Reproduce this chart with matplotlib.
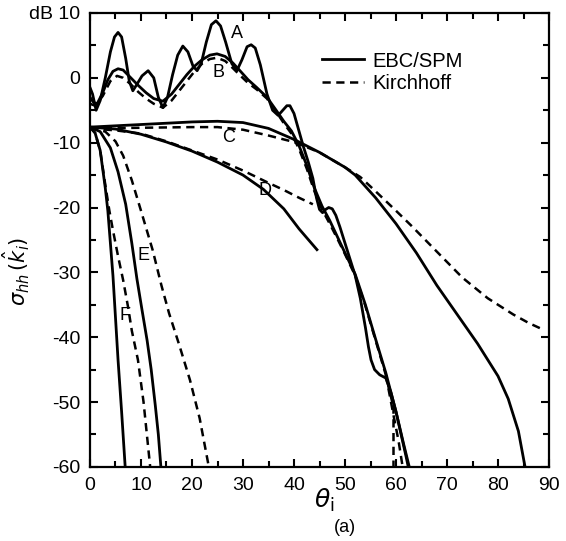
import matplotlib.pyplot as plt
from matplotlib.ticker import MultipleLocator

# Kurvendaten (theta in Grad, sigma in dB)
theta_A = [0, 0.5, 1.2, 2, 3, 4, 4.8, 5.5, 6.2, 7, 7.7, 8.4, 9.2, 10.2, 11.4, 12.5, 13.4, 14.3,
           15.2, 16.2, 17.2, 18.2, 19.2, 20.2, 21, 21.8, 22.8, 23.8, 24.7, 25.6, 26.6, 27.8,
           28.8, 29.8, 30.8, 31.6, 32.4, 33.4, 34.7, 35.8, 36.9, 37.8, 38.6, 39.2, 40, 40.9,
           41.8, 42.8, 43.7, 44.4, 45, 45.6, 46.2, 46.8, 47.5, 48.2, 49, 50, 51, 52, 53, 54,
           54.6, 55.1, 55.8, 56.8, 58, 59, 60, 61, 62, 62.4]
sigma_A = [-1.5, -2.5, -5, -3.5, 0, 4, 6.3, 7, 6.3, 3, -0.5, -2, -1, 0.3, 1.1, 0, -3, -4.6,
           -3, 0.5, 3.5, 4.9, 4, 1.8, 1.1, 2.2, 5.5, 8.2, 8.8, 8, 5.5, 2.2,
           1.1, 2.8, 4.8, 5.1, 4.6, 2, -2.5, -5, -5.8, -5, -4.3, -4.3, -5.5, -8,
           -10.5, -13, -15.5, -18.5, -20.3, -20.8, -20.3, -20, -20.2, -21.2, -23, -25.5, -28, -30.5, -34, -38.5,
           -41.5, -43.5, -45, -45.8, -46.3, -48.5, -51.5, -55, -58.5, -60]

theta_B = [0, 0.7, 1.4, 2.5, 3.5, 4.5, 5.5, 6.5, 8, 9.5, 11, 12.5, 14.3, 16, 17.5, 19, 20.5, 22,
           23.5, 24.9, 26.5, 28, 29.4, 31, 32.7, 34.7, 36.5, 38, 39.5, 41, 42.5, 44, 45.5, 47,
           48.5, 50, 52, 54, 56, 58, 60, 61.5, 62.6]
sigma_B = [-3, -3.8, -4, -2.3, -0.3, 1, 1.4, 1.2, 0, -1.2, -2.3, -3.2, -3.6, -2.5, -1, 0.5, 1.8, 2.8,
           3.5, 3.7, 3.3, 2.3, 1.1, -0.3, -1.5, -3, -5, -6.7, -8.2, -10.5, -13.5, -17, -19.8, -22,
           -24.5, -27, -30.3, -35, -40.3, -45.5, -51.5, -56.5, -60]

theta_AB_k = [0, 1, 2.5, 4, 5.3, 6.5, 8, 9.5, 11, 12.5, 14.3, 16, 17.5, 19, 20.5, 22, 23.5, 24.9,
              26.5, 28, 29.4, 31, 32.7, 34.7, 36.5, 38, 39.5, 41, 42.5, 44, 45.5, 47, 48.5, 50,
              52, 54, 56, 58, 59.4]
sigma_AB_k = [-4, -4.3, -2.8, -0.5, 0.3, 0, -1, -2.2, -3.2, -4, -4.6, -3.5, -2, -0.5, 1, 2.2, 2.9, 3.1,
              2.6, 1.5, 0.4, -0.8, -1.8, -3.2, -5.2, -7, -8.6, -11, -14, -17.5, -20.3, -22.5, -24.8, -27.2,
              -30.5, -35.2, -40.5, -45.8, -50.5]
theta_A_k_end = [59.4, 59.4]
sigma_A_k_end = [-50.5, -60]
theta_B_k_end = [58, 59.5, 60.5, 61.3]
sigma_B_k_end = [-45.8, -52, -56, -60]

theta_C = [0, 5, 10, 15, 20, 25, 30, 35, 40, 45, 50, 52, 56, 60, 64, 68, 72, 76, 80, 82, 84, 85.3]
sigma_C = [-7.6, -7.4, -7.2, -7.0, -6.8, -6.7, -6.9, -7.8, -9.5, -11.5, -13.8, -15, -18.5, -22.5,
           -27, -32, -36.5, -41, -46, -49.5, -54.5, -60]
theta_C_k = [0, 10, 20, 25, 30, 35, 40, 45, 50, 53, 56, 60, 63, 68, 73, 78, 83, 86, 88.2]
sigma_C_k = [-7.8, -7.7, -7.6, -7.6, -8, -8.9, -9.9, -11.5, -13.8, -15.3, -17.5, -20.5, -22.8,
             -26.8, -30.8, -34, -36.5, -37.8, -38.6]

theta_D = [0, 5, 10, 15, 20, 25, 30, 34, 38, 41, 44.5]
sigma_D = [-7.6, -7.9, -8.7, -9.9, -11.3, -13, -15, -17.2, -20.2, -23.3, -26.5]
theta_D_k = [0, 5, 10, 15, 20, 25, 30, 35, 38, 41, 43.7]
sigma_D_k = [-7.8, -8.1, -8.6, -9.8, -11.2, -12.6, -14.3, -16.2, -17.3, -18.5, -19.5]

theta_E = [0, 2, 4, 5.5, 7, 8.2, 9.2, 10.2, 11.2, 12, 12.8, 13.4, 13.9]
sigma_E = [-7.6, -8.3, -10.8, -14.5, -19.5, -25.5, -31, -35.8, -40.5, -45, -50.5, -55, -60]
theta_E_k = [0, 3, 5, 6.5, 8.2, 10, 12.3, 14, 15.5, 17.5, 19.6, 21.5, 23.3]
sigma_E_k = [-7.6, -8.3, -9.8, -12, -15.8, -20.5, -26.6, -32, -36.3, -41.2, -46.6, -52.5, -60]

theta_F = [0, 1, 2, 3, 3.5, 4, 4.5, 5, 5.5, 6.2, 6.9]
sigma_F = [-7.6, -8.5, -11.2, -17, -20.5, -25.5, -30.5, -37, -43.5, -51.5, -60]
theta_F_k = [0, 1, 2, 3, 3.8, 4.5, 5.5, 6.5, 7.5, 8.2, 9.4, 10.5, 11.8]
sigma_F_k = [-7.6, -8.5, -11.2, -16.5, -20.5, -23.5, -27.5, -31.2, -35.5, -39, -43.5, -50, -60]

labels = ['A', 'B', 'C', 'D', 'E', 'F']
label_theta = [28.8, 25.1, 27.1, 34.3, 10.4, 6.9]
label_sigma = [6.8, 0.8, -9.2, -17.4, -27.4, -36.6]

plt.rcParams['font.family'] = ['Liberation Sans', 'DejaVu Sans']
plt.rcParams['mathtext.fontset'] = 'dejavusans'

fig = plt.figure(figsize=(5.66, 5.41), dpi=100)
ax = fig.add_axes([0.159, 0.137, 0.811, 0.839])

lw = 2.0
dash = (0, (3.3, 2.2))
solid_sets = [(theta_A, sigma_A), (theta_B, sigma_B), (theta_C, sigma_C),
              (theta_D, sigma_D), (theta_E, sigma_E), (theta_F, sigma_F)]
dashed_sets = [(theta_AB_k, sigma_AB_k), (theta_A_k_end, sigma_A_k_end), (theta_B_k_end, sigma_B_k_end),
               (theta_C_k, sigma_C_k), (theta_D_k, sigma_D_k), (theta_E_k, sigma_E_k),
               (theta_F_k, sigma_F_k)]

for t, s in dashed_sets:
    ax.plot(t, s, color='black', lw=1.8, linestyle=dash)
for t, s in solid_sets:
    ax.plot(t, s, color='black', lw=lw, solid_joinstyle='round')

for lab, t, s in zip(labels, label_theta, label_sigma):
    ax.text(t, s, lab, fontsize=13, ha='center', va='center')

# Legende
h1, = ax.plot([], [], color='black', lw=lw)
h2, = ax.plot([], [], color='black', lw=1.8, linestyle=dash)
ax.legend([h1, h2], ['EBC/SPM', 'Kirchhoff'], loc='upper left', bbox_to_anchor=(0.465, 0.955),
          frameon=False, fontsize=14.5, handlelength=2.1, handletextpad=0.4, labelspacing=0.15)

ax.set_xlim(0, 90)
ax.set_ylim(-60, 10)
ax.xaxis.set_major_locator(MultipleLocator(10))
ax.xaxis.set_minor_locator(MultipleLocator(5))
ax.yaxis.set_major_locator(MultipleLocator(10))
ax.yaxis.set_minor_locator(MultipleLocator(5))
ax.set_yticks([-60, -50, -40, -30, -20, -10, 0, 10])
ax.set_yticklabels(['-60', '-50', '-40', '-30', '-20', '-10', '0', 'dB 10'])
ax.tick_params(which='both', direction='in', top=True, right=True, width=1.5, labelsize=14)
ax.tick_params(which='major', length=6, pad=7)
ax.tick_params(which='minor', length=4)
for sp in ax.spines.values():
    sp.set_linewidth(1.6)

ax.text(-0.16, 0.43, r'$\sigma_{hh}\,(\hat{k}_i)$', transform=ax.transAxes, rotation=90,
        fontsize=15, ha='center', va='center')
ax.text(0.51, -0.073, r'$\theta_{\mathrm{i}}$', transform=ax.transAxes, fontsize=18,
        ha='center', va='center')
ax.text(0.555, -0.134, '(a)', transform=ax.transAxes, fontsize=13, ha='center', va='center')

fig.savefig('out.png', dpi=100)
